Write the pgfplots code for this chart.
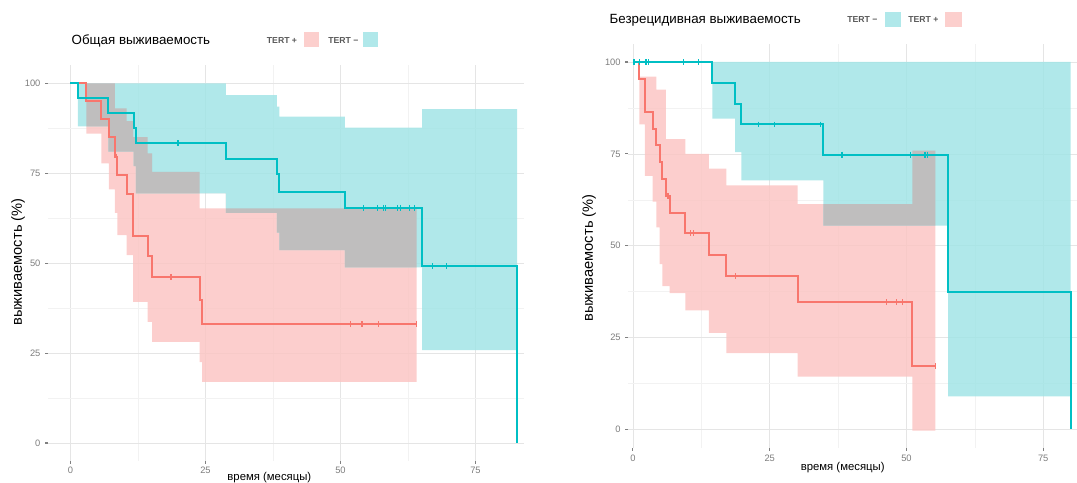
\documentclass[border=0pt]{standalone}
\usepackage{fontspec}
\setmainfont{Liberation Sans}
\usepackage{pgfplots}
\pgfplotsset{compat=1.18}
\definecolor{kmred}{HTML}{F8766D}
\definecolor{kmcyan}{HTML}{00BFC4}
% band colours chosen so that at 85% opacity they give the reference tints
\definecolor{bandred}{RGB}{251,198,196}
\definecolor{bandcyan}{RGB}{162,228,230}
\definecolor{bandgray}{RGB}{195,185,185}
\definecolor{legred}{RGB}{252,207,205}
\definecolor{legcyan}{RGB}{176,232,234}
\definecolor{tickgray}{RGB}{125,125,125}
\pgfplotsset{
  kmaxis/.style={
    set layers,
    scale only axis, anchor=south west,
    axis line style={draw=none},
    tick pos=left,
    tick align=outside, major tick length=2pt,
    tick style={color=black!50, line width=0.8pt},
    minor tick length=0pt,
    grid=both,
    major grid style={color=black!10, line width=0.5pt},
    minor grid style={color=black!5, line width=0.4pt},
    ymin=-5, ymax=105,
    xtick={0,25,50,75}, ytick={0,25,50,75,100},
    minor xtick={12.5,37.5,62.5}, minor ytick={12.5,37.5,62.5,87.5},
    tick label style={font=\fontsize{7}{8}\selectfont, text=tickgray},
    /pgf/number format/assume math mode=true,
  },
  km/.style={const plot, no marks, line width=1.5pt},
  band/.style={const plot, no marks, draw=none, fill=#1, fill opacity=0.85, on layer=pre main, forget plot},
  cens/.style={only marks, mark=|, mark size=2.2pt, mark options={line width=0.9pt}},
}
\begin{document}
\begin{tikzpicture}
\path (0,0) rectangle (807.75pt,-361.5pt);
% ---------------- left panel: overall survival ----------------
\begin{axis}[kmaxis, at={(35.85pt,-345.75pt)}, width=357.2pt, height=296.8pt,
  xmin=-4.2, xmax=84, xticklabel style={yshift=1pt}]
% confidence bands: upper limits forward, lower limits backward
\addplot[band=bandred] coordinates {(2.95,100)(8.2,93)(10.4,89.5)(11.6,85)(14.3,80.5)(15.1,75.4)(23.9,65.2)(64.1,65.2)
  (64.1,17)(24.4,22.5)(23.9,28.1)(15.1,33.7)(14.3,39.2)(11.6,52.2)(10.4,57.8)(8.7,64)(8.2,70.5)(7.1,77.7)(5.7,86)(2.95,86)} -- cycle;
\addplot[band=bandcyan] coordinates {(1.35,100)(28.8,96.7)(38.2,93.5)(38.7,90.7)(50.8,87.7)(65.1,92.8)(82.7,92.8)
  (82.7,25.8)(65.1,48.8)(50.8,53.6)(38.7,58.5)(38.2,64)(28.8,69.4)(12.1,77)(11.7,81)(7.0,88)(1.35,88)} -- cycle;
\addplot[band=bandgray] coordinates {(2.95,100)(8.2,93)(10.4,89.5)(11.6,85)(14.3,80.5)(15.1,75.4)(23.9,69.4)(28.8,65.2)(64.1,65.2)
  (64.1,48.8)(50.8,53.6)(38.7,58.5)(38.2,64)(28.8,69.4)(12.1,77)(11.7,81)(7.0,88)(2.95,88)} -- cycle;
% survival curves
\addplot[km, kmred] coordinates {(0,100)(2.95,95.0)(5.7,90.0)(7.1,85.0)(8.2,79.6)(8.7,74.5)(10.4,69.2)(11.6,57.5)(14.3,51.9)(15.1,46.2)(23.9,39.7)(24.4,33.0)(64.1,33.0)};
\addplot[km, kmcyan] coordinates {(0,100)(1.35,95.8)(7.0,91.7)(11.7,87.5)(12.1,83.3)(28.8,78.9)(38.2,74.8)(38.7,69.9)(50.8,65.4)(65.1,49.2)(82.7,0)};
\addplot[cens, kmred] coordinates {(8.45,79.6)(18.6,46.2)(51.8,33)(54,33)(57.1,33)(64.1,33)};
\addplot[cens, kmcyan] coordinates {(19.9,83.3)(54.2,65.4)(56.9,65.4)(58,65.4)(58.4,65.4)(60.6,65.4)(61.1,65.4)(62.8,65.4)(63.75,65.4)(67,49.2)(69.6,49.2)};
\end{axis}
% ---------------- right panel: relapse-free survival ----------------
\begin{axis}[kmaxis, at={(471pt,-335.9pt)}, width=342.2pt, height=303.2pt,
  xmin=-0.9, xmax=82.5]
\addplot[band=bandred] coordinates {(1.2,96)(2.2,96)(4.3,92.5)(6.0,79)(9.6,75)(13.9,71)(17.1,66.4)(30.1,61.3)(51.1,75.9)(55.3,75.9)
  (55.3,-0.3)(51.1,14.4)(30.1,20.8)(17.1,26.3)(13.9,32.4)(9.6,37.1)(6.7,39)(5.4,45)(4.9,55)(4.3,62)(3.6,69)(2.2,83)(1.2,83)} -- cycle;
\addplot[band=bandcyan] coordinates {(14.5,100)(80,100)
  (80,9)(57.6,55.5)(34.8,67.8)(19.8,75.5)(18.7,84.6)(14.5,84.6)} -- cycle;
\addplot[band=bandgray] coordinates {(34.8,61.3)(51.1,75.9)(55.3,75.9)
  (55.3,55.5)(34.8,55.5)} -- cycle;
\addplot[km, kmred] coordinates {(0,100)(1.2,95.5)(2.2,86.4)(3.6,81.8)(4.3,77.3)(4.9,72.7)(5.4,68.2)(6.0,63.6)(6.7,58.9)(9.6,53.4)(13.9,47.6)(17.1,41.7)(30.1,34.7)(51.1,17.2)(55.3,17.2)};
\addplot[km, kmcyan] coordinates {(0,100)(14.5,94.4)(18.7,88.7)(19.8,83.0)(34.8,74.8)(57.6,37.4)(80,0)};
\addplot[cens, kmred] coordinates {(6.4,63.6)(10.5,53.4)(11.0,53.4)(18.8,41.7)(46.4,34.7)(48.2,34.7)(49.3,34.7)(55.3,17.2)};
\addplot[cens, kmcyan] coordinates {(0.2,100)(1.2,100)(2.4,100)(2.8,100)(9.3,100)(12.0,100)(22.9,83)(25.9,83)(34.3,83)(38.2,74.8)(50.7,74.8)(53.4,74.8)(53.9,74.8)};
\end{axis}
% ---------------- titles, legends, axis labels ----------------
\node[anchor=west, font=\fontsize{10}{12}\selectfont] at (50.25pt,-30.75pt) {Общая выживаемость};
\node[anchor=west, font=\fontsize{6.5}{8}\selectfont\bfseries, text=black!65, inner sep=0pt] at (200pt,-30.75pt) {TERT +};
\fill[legred] (228pt,-24pt) rectangle (239.25pt,-35.25pt);
\node[anchor=west, font=\fontsize{6.5}{8}\selectfont\bfseries, text=black!65, inner sep=0pt] at (246pt,-30.75pt) {TERT −};
\fill[legcyan] (272.25pt,-24pt) rectangle (283.5pt,-35.25pt);
\node[anchor=west, font=\fontsize{10}{12}\selectfont] at (453.75pt,-15.5pt) {Безрецидивная выживаемость};
\node[anchor=west, font=\fontsize{6.5}{8}\selectfont\bfseries, text=black!65, inner sep=0pt] at (635.25pt,-15pt) {TERT −};
\fill[legcyan] (663.75pt,-9pt) rectangle (675.75pt,-20.25pt);
\node[anchor=west, font=\fontsize{6.5}{8}\selectfont\bfseries, text=black!65, inner sep=0pt] at (681pt,-15pt) {TERT +};
\fill[legred] (708.75pt,-9pt) rectangle (721.5pt,-20.25pt);
\node[rotate=90, font=\fontsize{11}{13}\selectfont] at (13.5pt,-196.5pt) {выживаемость (\%)};
\node[rotate=90, font=\fontsize{11}{13}\selectfont] at (441.75pt,-193.5pt) {выживаемость (\%)};
\node[font=\fontsize{8.5}{10}\selectfont] at (202pt,-358.5pt) {время (месяцы)};
\node[font=\fontsize{8.5}{10}\selectfont] at (632pt,-351pt) {время (месяцы)};
\pgfresetboundingbox
\useasboundingbox (0,0) rectangle (807.75pt,-361.5pt);
\end{tikzpicture}
\end{document}
